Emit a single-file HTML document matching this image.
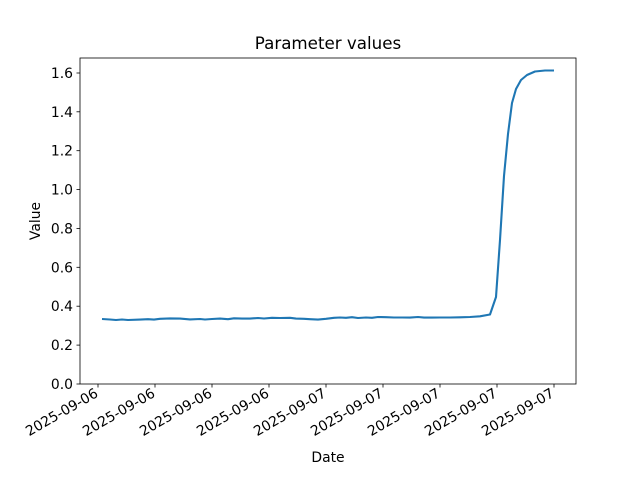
<!DOCTYPE html>
<html><head><meta charset="utf-8"><style>
html,body{margin:0;padding:0;background:#fff;}
svg text{font-family:"DejaVu Sans","Liberation Sans",sans-serif;fill:#000;}
</style></head><body>
<svg width="640" height="480" viewBox="0 0 640 480" xmlns="http://www.w3.org/2000/svg">
<rect width="640" height="480" fill="#fff"/>
<text x="328" y="49" font-size="16.7" text-anchor="middle">Parameter values</text>
<g stroke="#000" stroke-width="0.8">
<line x1="80" y1="384" x2="76.5" y2="384"/>
<line x1="80" y1="345.1" x2="76.5" y2="345.1"/>
<line x1="80" y1="306.2" x2="76.5" y2="306.2"/>
<line x1="80" y1="267.3" x2="76.5" y2="267.3"/>
<line x1="80" y1="228.5" x2="76.5" y2="228.5"/>
<line x1="80" y1="189.6" x2="76.5" y2="189.6"/>
<line x1="80" y1="150.7" x2="76.5" y2="150.7"/>
<line x1="80" y1="111.8" x2="76.5" y2="111.8"/>
<line x1="80" y1="73" x2="76.5" y2="73"/>
<line x1="98" y1="384" x2="98" y2="387.5"/>
<line x1="155" y1="384" x2="155" y2="387.5"/>
<line x1="212" y1="384" x2="212" y2="387.5"/>
<line x1="269" y1="384" x2="269" y2="387.5"/>
<line x1="326" y1="384" x2="326" y2="387.5"/>
<line x1="383" y1="384" x2="383" y2="387.5"/>
<line x1="440" y1="384" x2="440" y2="387.5"/>
<line x1="497" y1="384" x2="497" y2="387.5"/>
<line x1="554" y1="384" x2="554" y2="387.5"/>
</g>
<g font-size="13.9" text-anchor="end">
<text x="73" y="389">0.0</text>
<text x="73" y="350.1">0.2</text>
<text x="73" y="311.2">0.4</text>
<text x="73" y="272.3">0.6</text>
<text x="73" y="233.5">0.8</text>
<text x="73" y="194.6">1.0</text>
<text x="73" y="155.7">1.2</text>
<text x="73" y="116.8">1.4</text>
<text x="73" y="78">1.6</text>
</g>
<g font-size="13.9" text-anchor="end">
<text transform="translate(99,396) rotate(-30)">2025-09-06</text>
<text transform="translate(156,396) rotate(-30)">2025-09-06</text>
<text transform="translate(213,396) rotate(-30)">2025-09-06</text>
<text transform="translate(270,396) rotate(-30)">2025-09-06</text>
<text transform="translate(327,396) rotate(-30)">2025-09-07</text>
<text transform="translate(384,396) rotate(-30)">2025-09-07</text>
<text transform="translate(441,396) rotate(-30)">2025-09-07</text>
<text transform="translate(498,396) rotate(-30)">2025-09-07</text>
<text transform="translate(555,396) rotate(-30)">2025-09-07</text>
</g>
<text x="328" y="462" font-size="13.9" text-anchor="middle">Date</text>
<text transform="translate(40,221) rotate(-90)" font-size="13.9" text-anchor="middle">Value</text>
<polyline fill="none" stroke="#1f77b4" stroke-width="2.1" stroke-linejoin="round" points="102,319 110,319.5 116,320 122,319.5 128,320 140,319.6 148,319.2 154,319.6 160,318.8 170,318.4 180,318.6 190,319.4 200,319 205,319.5 212,319 220,318.6 228,319.2 234,318.3 242,318.6 250,318.6 258,318 264,318.5 272,317.8 280,318 290,317.8 296,318.6 304,318.8 310,319.2 318,319.6 326,318.8 334,317.8 340,317.5 346,317.8 352,317.2 358,318 366,317.5 372,317.8 378,317 386,317.2 394,317.5 402,317.5 410,317.6 418,317 424,317.6 432,317.6 440,317.5 450,317.5 460,317.3 470,317 480,316.3 490,314.5 496,297 500,240 504,176 508,134 512,103 516,89 521,80 527,75 535,71.5 545,70.5 554,70.5"/>
<rect x="80" y="58" width="496" height="326" fill="none" stroke="#000" stroke-width="0.8"/>
</svg>
</body></html>
